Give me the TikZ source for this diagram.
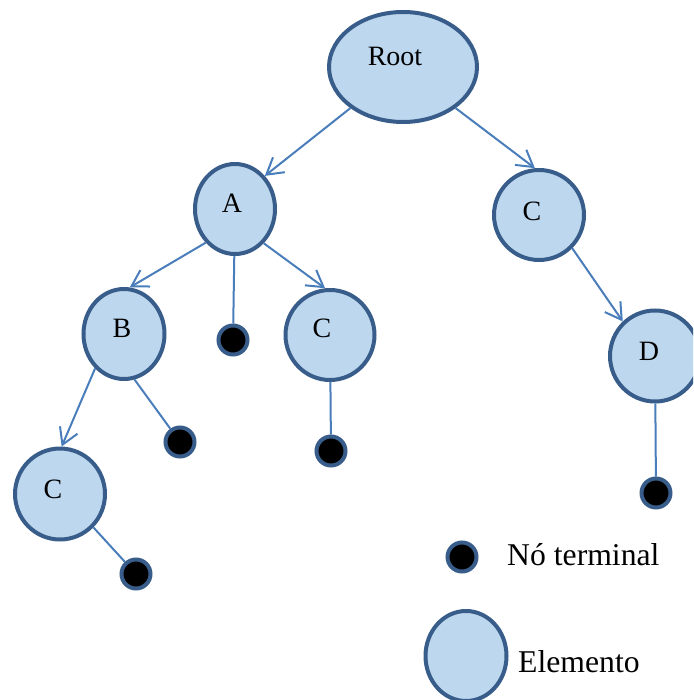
\documentclass[tikz,border=0pt]{standalone}
\usepackage{fontspec}
\setmainfont{Liberation Serif}
\usetikzlibrary{shapes.geometric,arrows.meta}
\definecolor{nodefill}{RGB}{189,215,238}
\definecolor{nodeborder}{RGB}{56,93,138}
\definecolor{edgecol}{RGB}{74,126,187}
\begin{document}
\begin{tikzpicture}[x=1pt,y=-1pt,
  elem/.style={ellipse, draw=nodeborder, fill=nodefill, line width=4pt, inner sep=0pt},
  term/.style={circle, draw=nodeborder, fill=black, line width=4pt, minimum size=29pt, inner sep=0pt},
  edgeline/.style={draw=edgecol, line width=2pt},
  arr/.style={edgeline, -{Straight Barb[length=16pt,width=19pt]}},
  lbl/.style={font=\fontsize{28}{32}\selectfont, inner sep=0pt},
  legtext/.style={font=\fontsize{31.7}{36}\selectfont, inner sep=0pt, anchor=base west}]
\useasboundingbox (0,0) rectangle (693,700);
\clip (0,0) rectangle (693,700);
% elements
\node[elem, minimum width=148pt, minimum height=110pt, label={[lbl,xshift=-8pt,yshift=11pt]center:Root}] (root) at (403,67) {};
\node[elem, minimum width=80pt, minimum height=90pt, label={[lbl,xshift=-3pt,yshift=6pt]center:A}] (a) at (235,209) {};
\node[elem, minimum width=90pt, minimum height=90pt, label={[lbl,xshift=-7pt,yshift=4pt]center:C}] (cr) at (539,215) {};
\node[elem, minimum width=81pt, minimum height=90pt, label={[lbl,xshift=-2pt,yshift=6pt]center:B}] (b) at (124,334) {};
\node[elem, minimum width=89pt, minimum height=90pt, label={[lbl,xshift=-8pt,yshift=7pt]center:C}] (cm) at (330,335) {};
\node[elem, minimum width=90pt, minimum height=91pt, label={[lbl,xshift=-6pt,yshift=5pt]center:D}] (d) at (655,356) {};
\node[elem, minimum width=90pt, minimum height=91pt, label={[lbl,xshift=-7pt,yshift=5pt]center:C}] (cb) at (60,494) {};
% terminals
\node[term] (ta) at (233,340) {};
\node[term] (tb) at (180,442) {};
\node[term] (tcm) at (331,451) {};
\node[term] (tcb) at (136,574) {};
\node[term] (td) at (656,493) {};
% connectors
\draw[arr] (root.218) -- (a.48);
\draw[arr] (root.322) -- (cr.95);
\draw[arr] (a.229) -- (b.83);
\draw[arr] (a.310) -- (cm.96);
\draw[arr] (b.230) -- (cb.88);
\draw[arr] (cr.315) -- (d.133);
\draw[edgeline] (a) -- (ta);
\draw[edgeline] (b.283) -- (tb);
\draw[edgeline] (cm) -- (tcm);
\draw[edgeline] (cb.315) -- (tcb);
\draw[edgeline] (d) -- (td);
% legend
\node[term] (legt) at (462,557) {};
\node[legtext] (legtl) at (507,565) {Nó terminal};
\node[elem, minimum width=81pt, minimum height=90pt] (lege) at (466,656) {};
\node[legtext] (legel) at (518,672) {Elemento};
\end{tikzpicture}
\end{document}
